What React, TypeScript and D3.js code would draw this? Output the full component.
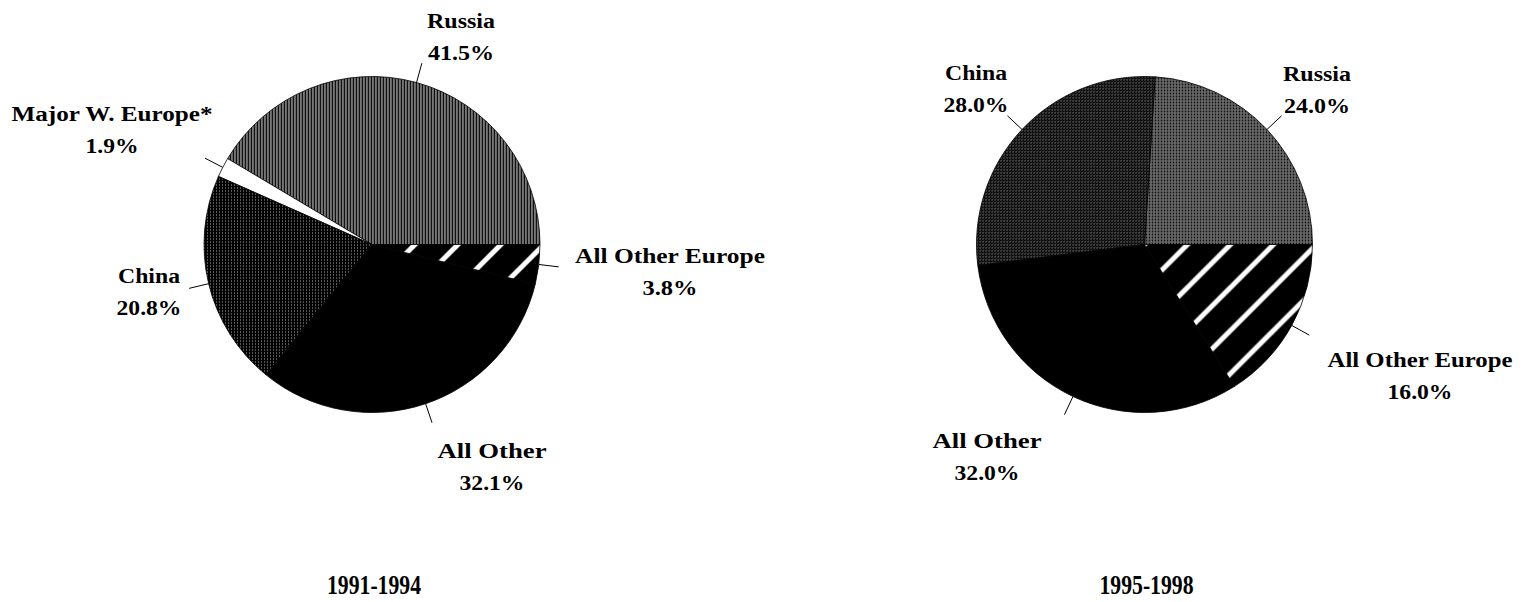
import * as d3 from 'd3';

// shares (percent)
const leftCategories = ['Russia', 'Major W. Europe*', 'China', 'All Other', 'All Other Europe'];
const leftValues = [41.5, 1.9, 20.8, 32.1, 3.8];
const leftLabels = ['41.5%', '1.9%', '20.8%', '32.1%', '3.8%'];

const rightCategories = ['Russia', 'China', 'All Other', 'All Other Europe'];
const rightValues = [24.0, 28.0, 32.0, 16.0];
const rightLabels = ['24.0%', '28.0%', '32.0%', '16.0%'];

const periods = ['1991-1994', '1995-1998'];

const WIDTH = 1522;
const HEIGHT = 602;
const R = 168;

// fill per category and pie
const leftFills: Record<string, string> = {
  Russia: 'url(#hatchFine)',
  'Major W. Europe*': '#fff',
  China: 'url(#dotsDark)',
  'All Other': '#000',
  'All Other Europe': 'url(#stripes)',
};
const rightFills: Record<string, string> = {
  Russia: 'url(#gridGrey)',
  China: 'url(#dotsDark2)',
  'All Other': '#000',
  'All Other Europe': 'url(#stripes)',
};

// label placement: centre x, baseline of first line, widths of both lines
type LabelPos = { x: number; y: number; w1: number; w2: number };
const leftLabelPos: Record<string, LabelPos> = {
  Russia: { x: 461, y: 28, w1: 68, w2: 66 },
  'Major W. Europe*': { x: 112, y: 121, w1: 201, w2: 53 },
  China: { x: 149, y: 283, w1: 62, w2: 65 },
  'All Other': { x: 492, y: 458, w1: 109, w2: 65 },
  'All Other Europe': { x: 670, y: 263, w1: 190, w2: 55 },
};
const rightLabelPos: Record<string, LabelPos> = {
  Russia: { x: 1317, y: 81, w1: 68, w2: 66 },
  China: { x: 976, y: 80, w1: 62, w2: 65 },
  'All Other': { x: 987, y: 448, w1: 109, w2: 65 },
  'All Other Europe': { x: 1420, y: 367, w1: 185, w2: 65 },
};

type PieProps = {
  cx: number;
  cy: number;
  categories: string[];
  values: number[];
  labels: string[];
  fills: Record<string, string>;
  labelPos: Record<string, LabelPos>;
  title: string;
};

const Pie = ({ cx, cy, categories, values, labels, fills, labelPos, title }: PieProps) => {
  // counter-clockwise from 3 o'clock
  const pie = d3
    .pie<number>()
    .sort(null)
    .startAngle(Math.PI / 2)
    .endAngle(Math.PI / 2 - 2 * Math.PI);
  const arc = d3.arc<d3.PieArcDatum<number>>().innerRadius(0).outerRadius(R);
  const arcs = pie(values);

  return (
    <g>
      <g transform={`translate(${cx},${cy})`}>
        {arcs.map((a, i) => (
          <path
            key={categories[i]}
            d={arc(a) || ''}
            fill={fills[categories[i]]}
            stroke="#000"
            strokeWidth={0.8}
          />
        ))}
        {arcs.map((a, i) => {
          const mid = (a.startAngle + a.endAngle) / 2;
          const sx = Math.sin(mid);
          const sy = -Math.cos(mid);
          return (
            <line
              key={'l' + i}
              x1={sx * R}
              y1={sy * R}
              x2={sx * (R + 20)}
              y2={sy * (R + 20)}
              stroke="#000"
              strokeWidth={1}
            />
          );
        })}
      </g>
      {categories.map((c, i) => {
        const p = labelPos[c];
        return (
          <g key={'t' + c} fontFamily="'Liberation Serif', serif" fontWeight="bold" fontSize={20} textAnchor="middle">
            <text x={p.x} y={p.y} textLength={p.w1} lengthAdjust="spacingAndGlyphs">
              {c}
            </text>
            <text x={p.x} y={p.y + 32} textLength={p.w2} lengthAdjust="spacingAndGlyphs">
              {labels[i]}
            </text>
          </g>
        );
      })}
      <text
        x={cx + 2}
        y={594}
        textAnchor="middle"
        fontFamily="'Liberation Serif', serif"
        fontWeight="bold"
        fontSize={27}
        textLength={94}
        lengthAdjust="spacingAndGlyphs"
      >
        {title}
      </text>
    </g>
  );
};

export default function App() {
  return (
    <svg
      width={WIDTH}
      height={HEIGHT}
      style={{ position: 'absolute', left: 0, top: 0, background: '#fff' }}
    >
      <defs>
        <pattern id="hatchFine" width={3} height={2} patternUnits="userSpaceOnUse">
          <rect width={3} height={2} fill="#111" />
          <rect x={0} y={0} width={1} height={1} fill="#ddd" />
          <rect x={1} y={1} width={1} height={1} fill="#bbb" />
        </pattern>
        <pattern id="dotsDark" width={3} height={3} patternUnits="userSpaceOnUse">
          <rect width={3} height={3} fill="#000" />
          <rect x={0} y={0} width={1} height={1} fill="#aaa" />
        </pattern>
        <pattern id="dotsDark2" width={3} height={3} patternUnits="userSpaceOnUse">
          <rect width={3} height={3} fill="#050505" />
          <rect x={0} y={0} width={1} height={1} fill="#bbb" />
          <rect x={1} y={2} width={1} height={1} fill="#555" />
        </pattern>
        <pattern id="gridGrey" width={3} height={3} patternUnits="userSpaceOnUse">
          <rect width={3} height={3} fill="#111" />
          <rect x={0} y={0} width={1} height={3} fill="#999" />
          <rect x={0} y={0} width={3} height={1} fill="#777" />
        </pattern>
        <pattern id="stripes" width={43} height={43} patternUnits="userSpaceOnUse">
          <rect width={43} height={43} fill="#000" />
          <line x1={-4} y1={47} x2={47} y2={-4} stroke="#fff" strokeWidth={5} />
          <line x1={-4} y1={4} x2={4} y2={-4} stroke="#fff" strokeWidth={5} />
          <line x1={39} y1={47} x2={47} y2={39} stroke="#fff" strokeWidth={5} />
        </pattern>
      </defs>
      <Pie
        cx={372}
        cy={244.5}
        categories={leftCategories}
        values={leftValues}
        labels={leftLabels}
        fills={leftFills}
        labelPos={leftLabelPos}
        title={periods[0]}
      />
      <Pie
        cx={1144.5}
        cy={244.5}
        categories={rightCategories}
        values={rightValues}
        labels={rightLabels}
        fills={rightFills}
        labelPos={rightLabelPos}
        title={periods[1]}
      />
    </svg>
  );
}
